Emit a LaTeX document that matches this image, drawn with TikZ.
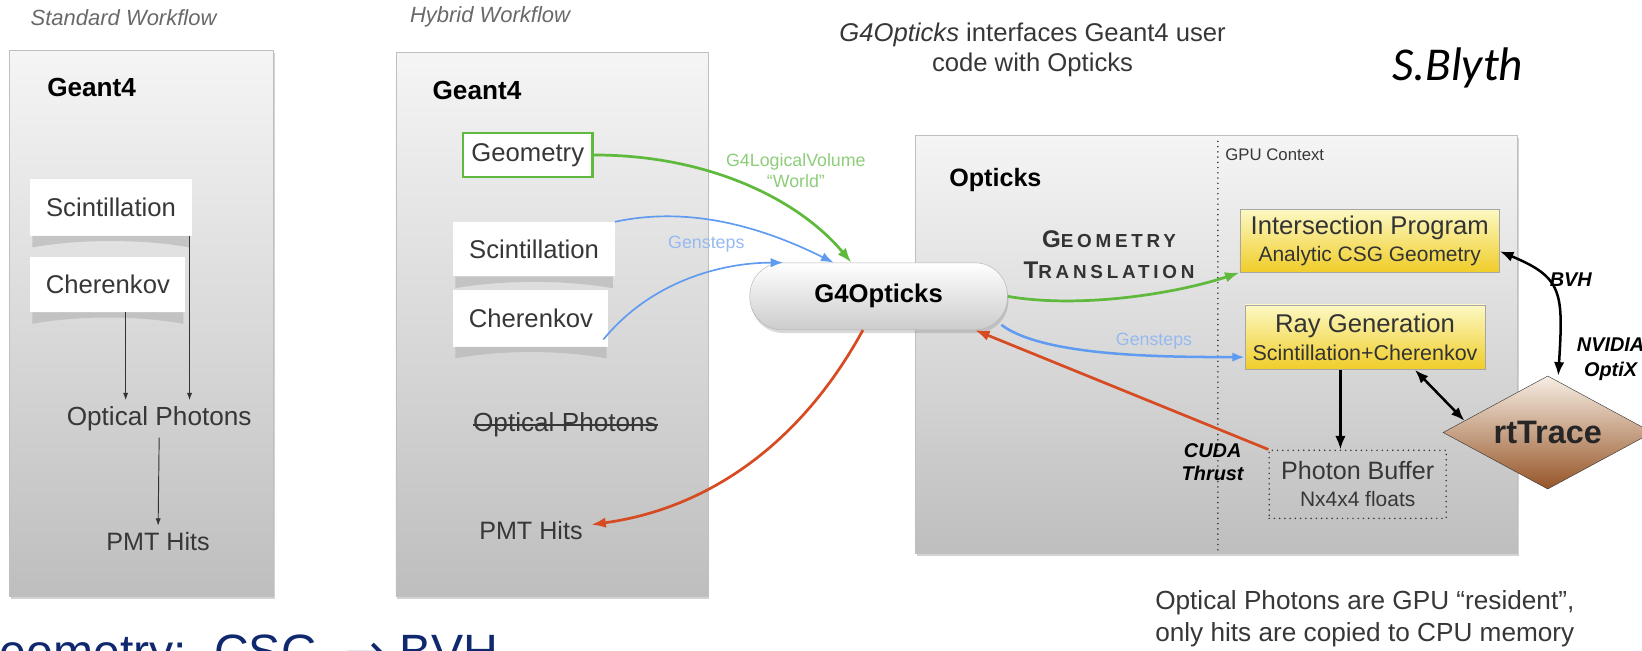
\documentclass[tikz,border=0pt]{standalone}
\usepackage{fontspec}
\usepackage{tikz}
\usetikzlibrary{arrows.meta,positioning,calc,shapes.geometric,shadows}
\setmainfont{Liberation Sans}
\newfontfamily\blythfont{Carlito}
\newfontfamily\arrowfont{DejaVu Sans}
\newcommand\fsz[2]{\fontsize{#1}{#2}\selectfont}
\newcommand\papercurl[1]{\fill[curl] ([xshift=2pt]#1.south west) -- ([xshift=-2pt]#1.south east) -- ++(0,11) .. controls +(-45,-8) and +(45,-8) .. ([xshift=2pt,yshift=-11pt]#1.south west) -- cycle;}
\definecolor{PanelTop}{RGB}{245,245,245}
\definecolor{PanelBot}{RGB}{190,190,190}
\definecolor{GeoGreen}{RGB}{95,185,60}
\definecolor{LabelGreen}{RGB}{140,205,120}
\definecolor{StepBlue}{RGB}{95,155,240}
\definecolor{LabelBlue}{RGB}{150,185,240}
\definecolor{HitRed}{RGB}{215,75,35}
\definecolor{BoxYellowTop}{RGB}{252,248,195}
\definecolor{BoxYellowBot}{RGB}{240,205,40}
\definecolor{TraceTop}{RGB}{247,238,228}
\definecolor{TraceBot}{RGB}{150,85,40}
\definecolor{TextGray}{RGB}{55,55,55}
\definecolor{TitleGray}{RGB}{105,105,105}
\definecolor{SlideNavy}{RGB}{15,40,110}

\begin{document}
\begin{tikzpicture}[x=1pt,y=-1pt,
  panel/.style={draw=gray!50, top color=PanelTop, bottom color=PanelBot, drop shadow={shadow xshift=1.5pt,shadow yshift=-3pt,opacity=.35}},
  title/.style={font=\itshape\fsz{21}{24}, text=TitleGray, inner sep=0},
  g4head/.style={font=\bfseries\fsz{25}{28}, inner sep=0},
  paper/.style={fill=white, font=\fsz{24.5}{28}, text=TextGray, inner sep=0},
  curl/.style={fill=gray!60, fill opacity=.6},
  plain/.style={font=\fsz{24.5}{28}, text=TextGray, inner sep=0},
  pill/.style={rounded corners=31pt, draw=gray!60, top color=white, bottom color=gray!40, font=\bfseries\fsz{24.5}{28}, drop shadow={shadow xshift=1pt,shadow yshift=-3pt,opacity=.3}},
  yellowbox/.style={draw=gray!70, top color=BoxYellowTop, bottom color=BoxYellowBot, text=black!80, align=center, inner sep=0},
  trace/.style={diamond, aspect=1.85, minimum width=200, minimum height=108, inner sep=0, draw=black!80, top color=TraceTop, bottom color=TraceBot, font=\bfseries\fsz{31}{31}, text=black!85},
  dotline/.style={line width=1.6pt, dash pattern=on 0pt off 5pt, line cap=round},
  arrowlbl/.style={font=\fsz{17}{20}, inner sep=0, align=center},
  callout/.style={font=\bfseries\itshape\fsz{19}{22}, inner sep=0, align=center},
  thinarrow/.style={-{Latex[length=7pt,width=5pt]}, line width=0.9pt, black!80},
  geoarrow/.style={-{Latex[length=14pt,width=10pt]}, line width=2.6pt, GeoGreen},
  steparrow/.style={-{Latex[length=12pt,width=9pt]}, line width=1.6pt, StepBlue},
  hitarrow/.style={-{Latex[length=14pt,width=10pt]}, line width=2.6pt, HitRed},
  gpuarrow/.style={-{Latex[length=13pt,width=10pt]}, line width=2.4pt, black},
  twoway/.style={{Latex[length=13pt,width=10pt]}-{Latex[length=13pt,width=10pt]}, line width=2.4pt, black}]
  \useasboundingbox (0,0) rectangle (1568,621);
  \clip (0,0) rectangle (1568,621);

  \node[panel, minimum width=252, minimum height=521] (stdbox) at (135,308.5) {};
  \node[panel, minimum width=298, minimum height=519] (hybbox) at (527,309.5) {};
  \node[panel, minimum width=575, minimum height=399] (optbox) at (1161.5,328.5) {};

  \node[title] (stdtitle) at (118,17) {Standard Workflow};
  \node[title] (hybtitle) at (468,16) {Hybrid Workflow};

  \node[g4head] (stdg4) at (87.5,84) {Geant4};
  \node[paper, minimum width=154, minimum height=54] (stdscint) at (106,198) {Scintillation};
  \papercurl{stdscint}
  \node[paper, minimum width=148, minimum height=53] (stdcher) at (103,271.5) {Cherenkov};
  \papercurl{stdcher}
  \node[plain, font=\fsz{25}{28}] (stdopt) at (152,400) {Optical Photons};
  \node[plain, font=\fsz{24}{28}] (stdpmt) at (151,517) {PMT Hits};
  \draw[thinarrow] ([xshift=17pt]stdcher.south) -- ([xshift=-32pt,yshift=6pt]stdopt.north);
  \draw[thinarrow] ([xshift=75pt]stdscint.south) -- ([xshift=29pt,yshift=6pt]stdopt.north);
  \draw[thinarrow] ([yshift=-6pt]stdopt.south) -- ([yshift=6pt]stdpmt.north);

  \node[g4head] (hybg4) at (455.5,86) {Geant4};
  \node[paper, draw=GeoGreen, line width=2.6pt, minimum width=124, minimum height=42] (hybgeom) at (504,148) {Geometry};
  \node[paper, minimum width=154, minimum height=52] (hybscint) at (510,238) {Scintillation};
  \papercurl{hybscint}
  \node[paper, minimum width=148, minimum height=54] (hybcher) at (507,304) {Cherenkov};
  \papercurl{hybcher}
  \node[plain, font=\fsz{25}{28}] (hybopt) at (540,406) {Optical Photons};
  \draw[TextGray, line width=1.3pt] (hybopt.west) -- (hybopt.east);
  \node[plain, font=\fsz{24}{28}] (hybpmt) at (507,507) {PMT Hits};

  \node[pill, minimum width=246, minimum height=64] (g4opt) at (839,283) {G4Opticks};

  \node[arrowlbl, text=LabelGreen] (lvlbl) at (760,163) {G4LogicalVolume\\“World”};
  \node[arrowlbl, text=LabelBlue] (hyblbl) at (674.5,233) {Gensteps};
  \draw[geoarrow] (hybgeom.east) .. controls +(110,0) and +(-50,-60) .. ([xshift=-26pt]g4opt.north);
  \draw[steparrow] (hybscint.north east) .. controls +(70,-15) and +(-70,-35) .. ([xshift=-43pt]g4opt.north);
  \draw[steparrow] ([xshift=-5pt,yshift=7pt]hybcher.south east) .. controls +(45,-55) and +(-60,0) .. ([xshift=-91pt]g4opt.north);
  \draw[hitarrow] ([xshift=-15pt]g4opt.south) .. controls +(-60,110) and +(110,-15) .. ([xshift=8pt,yshift=6pt]hybpmt.east);

  \node[plain, font=\fsz{24.5}{29}, align=center] (intro) at (986,47.5) {\textit{G4Opticks} interfaces Geant4 user\\code with Opticks};
  \node[anchor=base, font=\blythfont\itshape\fsz{45}{45}, inner sep=0] (author) at (1392,77) {S.Blyth};

  \coordinate (gputop) at (1163,135);
  \coordinate (gpubot) at (1163,528);
  \draw[dotline, black!85] (gputop) -- (gpubot);
  \node[plain, font=\fsz{16}{18}, anchor=west] (gpuctx) at (1170,148) {GPU Context};
  \node[g4head, font=\bfseries\fsz{24}{28}] (optname) at (950.5,172) {Opticks};
  \node[plain, align=center, text=black!80, font={\bfseries\fsz{18}{30}\addfontfeature{LetterSpace=20}}] (transl) at (1059,243) {{\fsz{23}{30}G}EOMETRY\\{\fsz{23}{30}T}RANSLATION};

  \node[yellowbox, minimum width=248, minimum height=60, font=\fsz{24.5}{26}] (isect) at (1308,230) {Intersection Program\\{\fsz{20}{22}Analytic CSG Geometry}};
  \node[yellowbox, minimum width=229, minimum height=62, font=\fsz{24.5}{26}] (raygen) at (1303.5,322) {Ray Generation\\{\fsz{20.5}{22}Scintillation+Cherenkov}};
  \node[draw=black!80, dotline, minimum width=169, minimum height=65, font=\fsz{24}{26}, text=TextGray, align=center, inner sep=0] (phbuf) at (1296.5,462.5) {Photon Buffer\\{\fsz{20}{24}Nx4x4 floats}};
  \node[callout] (cuda) at (1158,441) {CUDA\\Thrust};
  \node[trace] (rt) at (1478,413) {rtTrace};
  \node[callout] (bvh) at (1500,267) {BVH};
  \node[callout, font=\bfseries\itshape\fsz{19}{24}] (optix) at (1538,343) {NVIDIA\\OptiX};
  \node[arrowlbl, text=LabelBlue] (optlbl) at (1102,326) {Gensteps};

  \draw[geoarrow] (g4opt.east) .. controls +(70,12) and +(-60,20) .. (isect.south west);
  \draw[steparrow, line width=2.4pt] ([xshift=-6pt,yshift=5pt]g4opt.south east) .. controls +(40,30) and +(-80,0) .. ([yshift=-19pt]raygen.west);
  \draw[hitarrow] (phbuf.north west) -- ([xshift=92pt]g4opt.south);
  \draw[gpuarrow] ([xshift=-23.5pt]raygen.south) -- ([xshift=-16.5pt]phbuf.north);
  \draw[twoway] ([xshift=-67pt]raygen.south east) -- (rt.172);
  \draw[twoway] ([yshift=-10pt]isect.east) .. controls +(60,25) and +(5,-80) .. ([xshift=10pt]rt.north);

  \node[plain, font=\fsz{25}{30}, align=left, anchor=west] (resident) at (1103,591) {Optical Photons are GPU “resident”,\\only hits are copied to CPU memory};
  \node[anchor=base west, font=\fsz{46}{46}, text=SlideNavy, inner sep=0] (csgbvh) at (-36,638) {Geometry:\ \ CSG\ \ {\arrowfont →} BVH};
\end{tikzpicture}
\end{document}
